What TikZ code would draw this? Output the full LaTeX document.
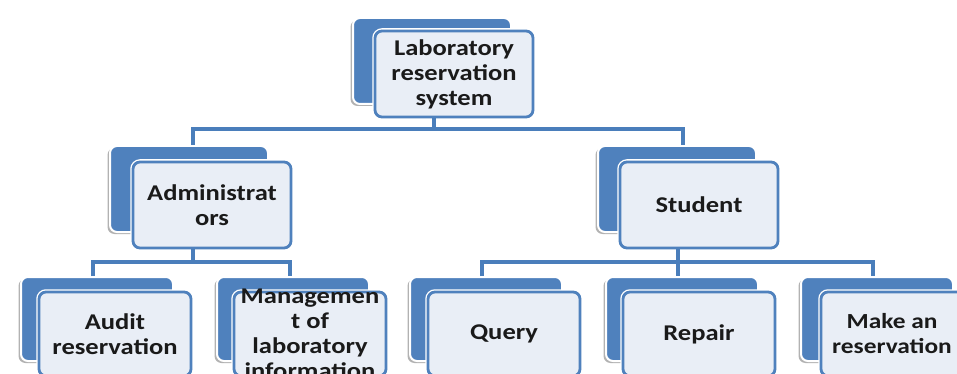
\documentclass[tikz,border=0pt]{standalone}
\usepackage{fontspec}
\setmainfont[FakeStretch=1.18]{Carlito}
\usetikzlibrary{shadows}
\definecolor{sablue}{HTML}{4F81BD}
\definecolor{salight}{HTML}{E9EEF6}
\definecolor{saline}{HTML}{4A7EBB}
\definecolor{satext}{HTML}{1A1A1A}
\begin{document}
\begin{tikzpicture}[x=1pt,y=-1pt,
  backbox/.style={draw=white, line width=2pt, fill=sablue, rounded corners=7pt, inner sep=0pt,
    drop shadow={shadow xshift=-2.5pt, shadow yshift=-2pt, fill=black!60, opacity=0.5}},
  frontbox/.style={preaction={draw=white, line width=5.5pt}, draw=sablue, line width=2.8pt,
    fill=salight, rounded corners=7pt, inner sep=0pt},
  bigsize/.style={minimum width=158pt, minimum height=86pt},
  smallsize/.style={minimum width=152pt, minimum height=84pt},
  lbl/.style={align=center, text=satext, inner sep=0pt,
    font=\fontsize{22.5}{25}\selectfont\bfseries},
  conn/.style={draw=saline, line width=3.5pt}
]
\useasboundingbox (0,0) rectangle (957,374);
\fill[white] (0,0) rectangle (957,374);
\clip (0,0) rectangle (957,374);

% top
\node[backbox, bigsize] (topB) at (432,61) {};
\node[frontbox, bigsize] (topF) at (454,74) {};
\node[lbl] (topT) at (topF.center) {Laboratory\\reservation\\system};

% middle
\node[backbox, bigsize] (adminB) at (189,189) {};
\node[frontbox, bigsize] (adminF) at (212,205) {};
\node[lbl] (adminT) at (adminF.center) {Administrat\\ors};

\node[backbox, bigsize] (studentB) at (677,189) {};
\node[frontbox, bigsize] (studentF) at (699,205) {};
\node[lbl] (studentT) at (studentF.center) {Student};

% bottom
\node[backbox, smallsize] (auditB) at (97,319) {};
\node[frontbox, smallsize] (auditF) at (115,334) {};
\node[lbl] (auditT) at (auditF.center) {Audit\\reservation};

\node[backbox, smallsize] (mgmtB) at (293,319) {};
\node[frontbox, smallsize] (mgmtF) at (310,334) {};
\node[lbl] (mgmtT) at (mgmtF.center) {Managemen\\t of\\laboratory\\information};

\node[backbox, smallsize] (queryB) at (486,319) {};
\node[frontbox, smallsize] (queryF) at (504,334) {};
\node[lbl] (queryT) at (queryF.center) {Query};

\node[backbox, smallsize] (repairB) at (682,319) {};
\node[frontbox, smallsize] (repairF) at (699,334) {};
\node[lbl] (repairT) at (repairF.center) {Repair};

\node[backbox, smallsize] (makeB) at (877,319) {};
\node[frontbox, smallsize] (makeF) at (897,334) {};
\node[lbl, font=\fontsize{21.5}{25}\selectfont\bfseries] (makeT) at ([xshift=-5pt]makeF.center) {Make an\\reservation};

% junctions
\coordinate (jt) at (434,129);
\coordinate (ja) at (193,262);
\coordinate (js) at (678,262);
\coordinate (ca) at (193,0);
\coordinate (cs) at (683,0);
\coordinate (c1) at (93,0);
\coordinate (c2) at (290,0);
\coordinate (c3) at (482,0);
\coordinate (c5) at (873,0);

\draw[conn] (topF.south -| jt) -- (jt);
\draw[conn] (adminB.north -| ca) |- (jt) -| (studentB.north -| cs);

\draw[conn] (adminF.south -| ja) -- (ja);
\draw[conn] (auditB.north -| c1) |- (ja) -| (mgmtB.north -| c2);

\draw[conn] (studentF.south -| js) -- (js);
\draw[conn] (queryB.north -| c3) |- (js) -| (makeB.north -| c5);
\draw[conn] (js) -- (repairB.north -| js);
\end{tikzpicture}
\end{document}
